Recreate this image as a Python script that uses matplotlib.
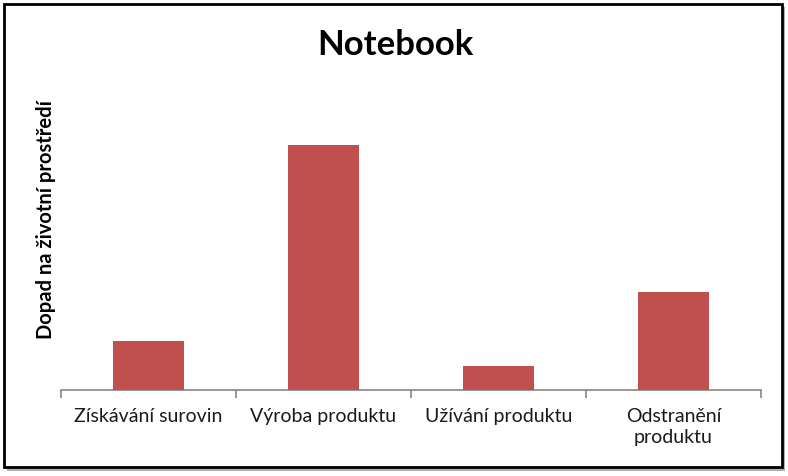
import matplotlib
matplotlib.use("Agg")
import matplotlib.pyplot as plt
from matplotlib.patches import Rectangle

categories = ["Získávání surovin", "Výroba produktu", "Užívání produktu", "Odstranění\nproduktu"]
values = [2, 10, 1, 4]
title = "Notebook"
ylabel = "Dopad na životní prostředí"

plt.rcParams['font.family'] = ['Lato', 'DejaVu Sans']

W, H = 788, 476
fig = plt.figure(figsize=(W / 100, H / 100), dpi=100)

# shadow + border
fig.patches.append(Rectangle((7 / W, 1 - 471 / H), 778 / W, 464 / H, transform=fig.transFigure,
                             facecolor="#b0b0b0", edgecolor="none", zorder=0))
fig.patches.append(Rectangle((4 / W, 1 - 467 / H), 778 / W, 463 / H, transform=fig.transFigure,
                             facecolor="white", edgecolor="black", linewidth=2, zorder=1))

ax = fig.add_axes([61 / W, 1 - 390 / H, 700 / W, 294 / H])
ax.set_zorder(5)
ax.patch.set_alpha(0)
x = list(range(len(categories)))
ax.bar(x, values, width=0.405, color="#C0504D", zorder=3)
ax.set_xlim(-0.5, len(categories) - 0.5)
ax.set_ylim(0, 12)
for s in ["top", "right", "left"]:
    ax.spines[s].set_visible(False)
ax.spines["bottom"].set_color("#868686")
ax.spines["bottom"].set_linewidth(1.2)
ax.set_yticks([])
ax.set_xticks(x)
ax.set_xticklabels(categories, fontsize=14, color="#1a1a1a", linespacing=1.25)
ax.tick_params(axis="x", length=0, pad=13)
ax.set_xticks([i - 0.5 for i in range(len(categories) + 1)], minor=True)
ax.tick_params(axis="x", which="minor", length=6, color="#868686", width=1.2)

fig.text(395 / W, 1 - 45 / H, title, fontsize=25, fontweight="bold", ha="center", va="center", zorder=6)
fig.text(46 / W, 1 - 220 / H, ylabel, fontsize=14.5, fontweight="bold", rotation=90, ha="center", va="center", zorder=6)

fig.savefig("out.png", dpi=100)
